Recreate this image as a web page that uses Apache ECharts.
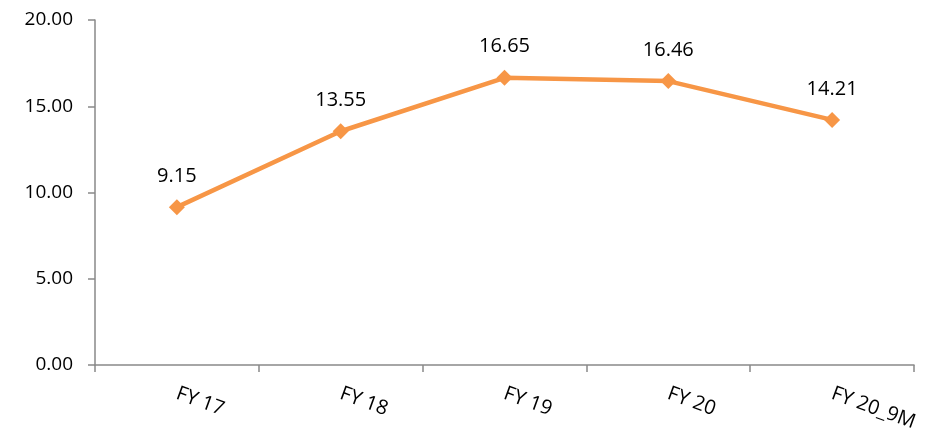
<!DOCTYPE html>
<html>
<head>
<meta charset="utf-8">
<script src="https://cdn.jsdelivr.net/npm/echarts@6/dist/echarts.min.js"></script>
<style>
  html, body { margin: 0; padding: 0; background: #ffffff; }
  #chart { width: 934px; height: 435px; }
</style>
</head>
<body>
<div id="chart"></div>
<script>
// Fiscal-year categories and the values plotted for each
const categories = ['FY 17', 'FY 18', 'FY 19', 'FY 20', 'FY 20_9M'];
const values = [9.15, 13.55, 16.65, 16.46, 14.21];
const yTicks = { min: 0, max: 20, interval: 5 };

const axisColor = '#898989';
const lineColor = '#F79646';
const font = '"Open Sans", "Noto Sans", sans-serif';

const chart = echarts.init(document.getElementById('chart'), null, { renderer: 'canvas' });
chart.setOption({
  animation: false,
  backgroundColor: '#ffffff',
  grid: { left: 95, right: 20, top: 20, bottom: 70 },
  xAxis: {
    type: 'category',
    data: categories,
    boundaryGap: true,
    axisLine: { show: true, lineStyle: { color: axisColor, width: 1.5 } },
    axisTick: { show: true, length: 7, lineStyle: { color: axisColor, width: 1.5 } },
    axisLabel: { rotate: -20, margin: 28, color: '#000', fontSize: 20, fontFamily: font },
    splitLine: { show: false }
  },
  yAxis: {
    type: 'value',
    min: yTicks.min,
    max: yTicks.max,
    interval: yTicks.interval,
    axisLine: { show: true, lineStyle: { color: axisColor, width: 1.5 } },
    axisTick: { show: true, length: 7, lineStyle: { color: axisColor, width: 1.5 } },
    axisLabel: {
      color: '#000', fontSize: 19, fontFamily: font, margin: 22,
      formatter: v => v.toFixed(2)
    },
    splitLine: { show: false }
  },
  series: [{
    type: 'line',
    data: values,
    symbol: 'diamond',
    symbolSize: 16,
    lineStyle: { color: lineColor, width: 4.5 },
    itemStyle: { color: lineColor },
    label: {
      show: true, position: 'top', distance: 13,
      color: '#000', fontSize: 20, fontFamily: font,
      formatter: p => p.value.toFixed(2)
    }
  }]
});
</script>
</body>
</html>
